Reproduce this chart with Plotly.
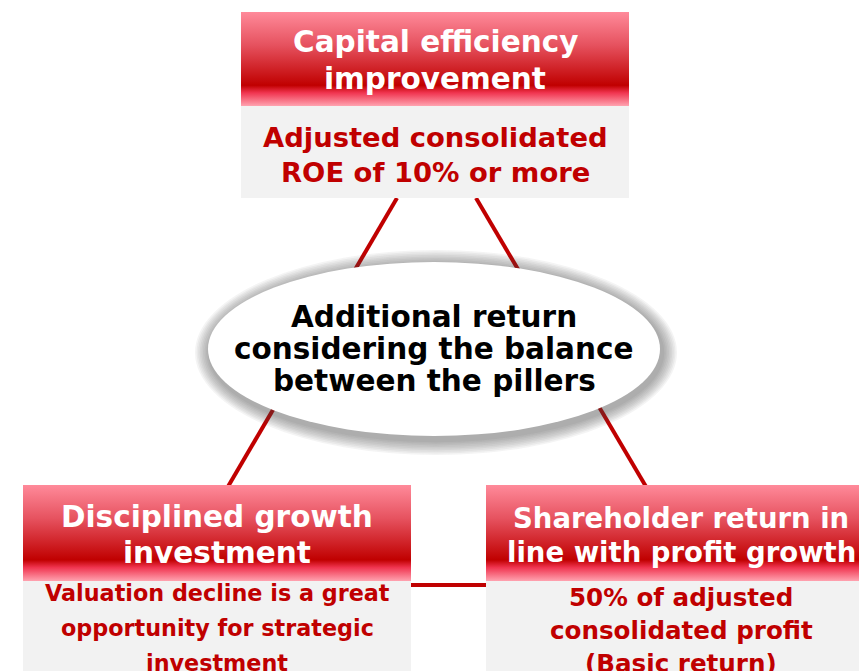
import plotly.graph_objects as go

# ---- content ----
top_header = ["Capital efficiency", "improvement"]
top_body = ["Adjusted consolidated", "ROE of 10% or more"]
center_text = ["Additional return", "considering the balance", "between the pillers"]
left_header = ["Disciplined growth", "investment"]
left_body = ["Valuation decline is a great", "opportunity for strategic", "investment"]
right_header = ["Shareholder return in", "line with profit growth"]
right_body = ["50% of adjusted", "consolidated profit", "(Basic return)"]

W, H = 859, 671
RED = "#C00000"
GREY = "#F2F2F2"
FONT = "DejaVu Sans"

fig = go.Figure()
shapes = []

# connecting lines (triangle)
for x0, y0, x1, y1 in [(397, 198, 226, 490), (476, 198, 648, 490), (411, 585, 487, 585)]:
    shapes.append(dict(type="line", x0=x0, y0=y0, x1=x1, y1=y1, layer="below",
                       line=dict(color=RED, width=4)))

# boxes: (x0, x1, header_top, header_bottom, body_bottom)
boxes = [
    (241, 629, 12, 106, 198),
    (23, 411, 485, 581, 700),
    (486, 876, 485, 581, 700),
]
for x0, x1, yt, yh, yb in boxes:
    shapes.append(dict(type="rect", x0=x0, x1=x1, y0=yh, y1=yb, layer="below",
                       fillcolor=GREY, line=dict(width=0)))
    fig.add_trace(go.Scatter(
        x=[x0, x1, x1, x0, x0], y=[yt, yt, yh, yh, yt], mode="lines",
        fill="toself", line=dict(width=0), hoverinfo="skip", showlegend=False,
        fillgradient=dict(type="vertical", start=yt, stop=yh,
                          colorscale=[[0, "#FF8A9A"], [0.35, "#E6525F"],
                                      [0.78, "#C00000"], [0.86, "#F03550"],
                                      [1, "#FFA3B0"]])))

# ellipse shadow (soft halo) + ellipse
cx, cy, rx, ry = 434, 349, 226, 87
n = 9
for i in range(n):
    g = 15 - i * 1.6
    shapes.append(dict(type="circle", x0=cx - rx - g + 2, x1=cx + rx + g + 2,
                       y0=cy - ry - g + 3, y1=cy + ry + g + 4, layer="below",
                       fillcolor="rgba(70,70,70,0.06)", line=dict(width=0)))
shapes.append(dict(type="circle", x0=cx - rx, x1=cx + rx, y0=cy - ry, y1=cy + ry,
                   layer="below", fillcolor="white", line=dict(width=0)))


def add_lines(lines, xc, y_first, step, size, color):
    for i, t in enumerate(lines):
        fig.add_annotation(x=xc, y=y_first + i * step, text=t, showarrow=False,
                           xanchor="center", yanchor="middle",
                           font=dict(family=FONT, size=size, color=color, weight="bold"))


add_lines(top_header, 435, 42, 37, 29.5, "white")
add_lines(top_body, 435, 137, 35, 27.4, RED)
add_lines(center_text, 434, 317, 32, 29.5, "black")
add_lines(left_header, 217, 517, 36, 29.5, "white")
add_lines(left_body, 217, 593, 35, 22.3, RED)
add_lines(right_header, 681, 518, 34, 27.5, "white")
add_lines(right_body, 681, 597, 33, 24.6, RED)

fig.update_layout(
    width=W, height=H, margin=dict(l=0, r=0, t=0, b=0),
    paper_bgcolor="white", plot_bgcolor="white", shapes=shapes, showlegend=False,
    xaxis=dict(range=[0, W], visible=False, fixedrange=True),
    yaxis=dict(range=[H, 0], visible=False, fixedrange=True),
)
fig.write_html("out.html", config={"displayModeBar": False},
               post_script="document.body.style.margin='0';")
